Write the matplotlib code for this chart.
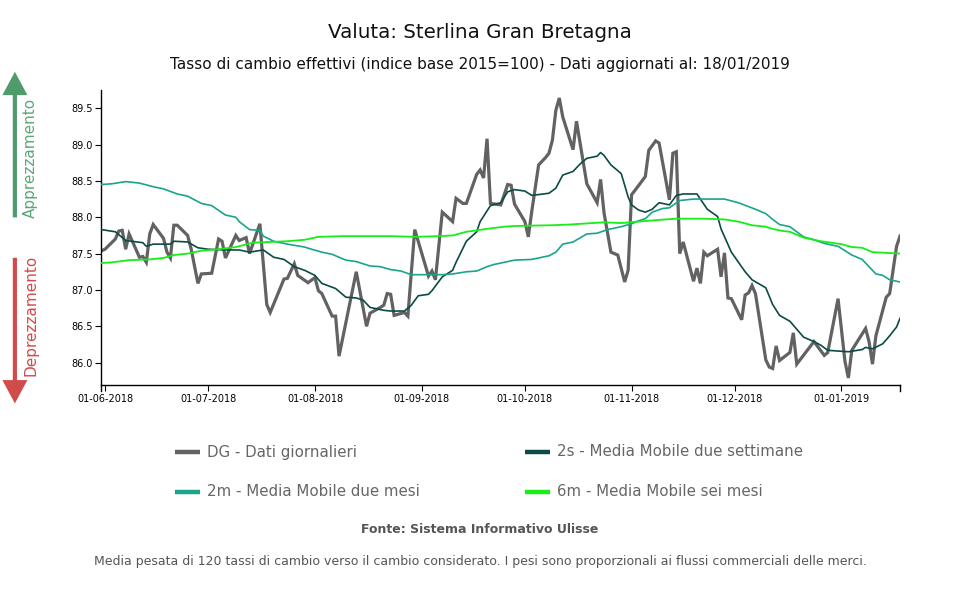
import matplotlib
matplotlib.use("Agg")
import matplotlib.pyplot as plt
import matplotlib.dates as mdates
from matplotlib.lines import Line2D
import pandas as pd

# ---------------- data ----------------
dg_dates = ["2018-05-31", "2018-06-01", "2018-06-04", "2018-06-05", "2018-06-06", "2018-06-07", "2018-06-08",
            "2018-06-11", "2018-06-12", "2018-06-13", "2018-06-14", "2018-06-15", "2018-06-18", "2018-06-19",
            "2018-06-20", "2018-06-21", "2018-06-22", "2018-06-25", "2018-06-26", "2018-06-28", "2018-06-29",
            "2018-07-02", "2018-07-04", "2018-07-05", "2018-07-06", "2018-07-09", "2018-07-10", "2018-07-12",
            "2018-07-13", "2018-07-16", "2018-07-18", "2018-07-19", "2018-07-23", "2018-07-24", "2018-07-26",
            "2018-07-27", "2018-07-30", "2018-08-01", "2018-08-02", "2018-08-03", "2018-08-06", "2018-08-07",
            "2018-08-08", "2018-08-13", "2018-08-16", "2018-08-17", "2018-08-20", "2018-08-21", "2018-08-22",
            "2018-08-23", "2018-08-24", "2018-08-27", "2018-08-28", "2018-08-30", "2018-09-03", "2018-09-04",
            "2018-09-05", "2018-09-07", "2018-09-10", "2018-09-11", "2018-09-13", "2018-09-14", "2018-09-17",
            "2018-09-18", "2018-09-19", "2018-09-20", "2018-09-21", "2018-09-24", "2018-09-26", "2018-09-27",
            "2018-09-28", "2018-10-01", "2018-10-02", "2018-10-03", "2018-10-05", "2018-10-07", "2018-10-08",
            "2018-10-09", "2018-10-10", "2018-10-11", "2018-10-12", "2018-10-15", "2018-10-16", "2018-10-19",
            "2018-10-22", "2018-10-23", "2018-10-24", "2018-10-26", "2018-10-28", "2018-10-30", "2018-10-31",
            "2018-11-01", "2018-11-02", "2018-11-05", "2018-11-06", "2018-11-08", "2018-11-09", "2018-11-12",
            "2018-11-13", "2018-11-14", "2018-11-15", "2018-11-16", "2018-11-19", "2018-11-20", "2018-11-21",
            "2018-11-22", "2018-11-23", "2018-11-26", "2018-11-27", "2018-11-28", "2018-11-29", "2018-11-30",
            "2018-12-03", "2018-12-04", "2018-12-05", "2018-12-06", "2018-12-07", "2018-12-10", "2018-12-11",
            "2018-12-12", "2018-12-13", "2018-12-14", "2018-12-17", "2018-12-18", "2018-12-19", "2018-12-24",
            "2018-12-27", "2018-12-28", "2018-12-31", "2019-01-02", "2019-01-03", "2019-01-04", "2019-01-08",
            "2019-01-09", "2019-01-10", "2019-01-11", "2019-01-14", "2019-01-15", "2019-01-17", "2019-01-18"]
dg_values = [87.54, 87.56, 87.70, 87.81, 87.82, 87.56, 87.77,
             87.45, 87.46, 87.38, 87.77, 87.90, 87.71, 87.52,
             87.44, 87.89, 87.89, 87.75, 87.57, 87.09, 87.22,
             87.23, 87.70, 87.67, 87.44, 87.75, 87.68, 87.72,
             87.50, 87.91, 86.80, 86.69, 87.15, 87.16, 87.36,
             87.20, 87.10, 87.17, 86.99, 86.95, 86.64, 86.64,
             86.09, 87.25, 86.50, 86.68, 86.76, 86.79, 86.95,
             86.94, 86.65, 86.69, 86.64, 87.83, 87.19, 87.26,
             87.14, 88.07, 87.94, 88.26, 88.19, 88.19, 88.59,
             88.65, 88.54, 89.08, 88.19, 88.17, 88.45, 88.44,
             88.18, 87.94, 87.73, 88.08, 88.72, 88.82, 88.88,
             89.06, 89.47, 89.64, 89.38, 88.93, 89.32, 88.46,
             88.20, 88.52, 88.06, 87.52, 87.48, 87.11, 87.27,
             88.31, 88.37, 88.56, 88.92, 89.05, 89.02, 88.24,
             88.88, 88.90, 87.50, 87.66, 87.12, 87.30, 87.09,
             87.52, 87.47, 87.56, 87.18, 87.51, 86.89, 86.88,
             86.59, 86.93, 86.96, 87.06, 86.95, 86.04, 85.94,
             85.92, 86.23, 86.03, 86.14, 86.41, 85.98, 86.29,
             86.10, 86.14, 86.88, 86.02, 85.79, 86.17, 86.47,
             86.29, 85.98, 86.37, 86.90, 86.95, 87.60, 87.74]

ma2s_dates = ["2018-05-31", "2018-06-04", "2018-06-07", "2018-06-12", "2018-06-13", "2018-06-15", "2018-06-20",
              "2018-06-21", "2018-06-25", "2018-06-28", "2018-07-01", "2018-07-06", "2018-07-10", "2018-07-13",
              "2018-07-17", "2018-07-20", "2018-07-23", "2018-07-26", "2018-07-29", "2018-08-01", "2018-08-03",
              "2018-08-07", "2018-08-10", "2018-08-13", "2018-08-15", "2018-08-17", "2018-08-19", "2018-08-21",
              "2018-08-23", "2018-08-27", "2018-08-29", "2018-08-31", "2018-09-03", "2018-09-04", "2018-09-07",
              "2018-09-10", "2018-09-11", "2018-09-14", "2018-09-17", "2018-09-18", "2018-09-21", "2018-09-24",
              "2018-09-26", "2018-09-28", "2018-10-01", "2018-10-03", "2018-10-08", "2018-10-10", "2018-10-12",
              "2018-10-15", "2018-10-17", "2018-10-19", "2018-10-22", "2018-10-23", "2018-10-24", "2018-10-26",
              "2018-10-29", "2018-10-31", "2018-11-01", "2018-11-03", "2018-11-05", "2018-11-07", "2018-11-09",
              "2018-11-12", "2018-11-14", "2018-11-16", "2018-11-20", "2018-11-23", "2018-11-26", "2018-11-27",
              "2018-11-30", "2018-12-04", "2018-12-06", "2018-12-10", "2018-12-12", "2018-12-14", "2018-12-17",
              "2018-12-21", "2018-12-24", "2018-12-26", "2018-12-28", "2019-01-03", "2019-01-07", "2019-01-08",
              "2019-01-10", "2019-01-13", "2019-01-15", "2019-01-17", "2019-01-18"]
ma2s_values = [87.83, 87.80, 87.68, 87.65, 87.60, 87.63, 87.63,
               87.67, 87.66, 87.58, 87.56, 87.55, 87.55, 87.52,
               87.55, 87.45, 87.42, 87.32, 87.27, 87.20, 87.09,
               87.02, 86.90, 86.89, 86.86, 86.76, 86.74, 86.72,
               86.71, 86.71, 86.79, 86.92, 86.94, 86.99, 87.18,
               87.27, 87.38, 87.67, 87.80, 87.94, 88.16, 88.20,
               88.35, 88.38, 88.36, 88.30, 88.33, 88.40, 88.58,
               88.63, 88.73, 88.81, 88.84, 88.89, 88.85, 88.72,
               88.60, 88.28, 88.17, 88.10, 88.07, 88.11, 88.20,
               88.17, 88.30, 88.32, 88.32, 88.11, 88.01, 87.84,
               87.52, 87.25, 87.14, 87.03, 86.80, 86.65, 86.57,
               86.35, 86.29, 86.24, 86.17, 86.15, 86.18, 86.21,
               86.19, 86.26, 86.37, 86.49, 86.61]

ma2m_dates = ["2018-05-31", "2018-06-03", "2018-06-07", "2018-06-11", "2018-06-15", "2018-06-18", "2018-06-22",
              "2018-06-25", "2018-06-29", "2018-07-02", "2018-07-06", "2018-07-09", "2018-07-10", "2018-07-13",
              "2018-07-16", "2018-07-17", "2018-07-20", "2018-07-24", "2018-07-29", "2018-07-31", "2018-08-03",
              "2018-08-06", "2018-08-10", "2018-08-13", "2018-08-17", "2018-08-20", "2018-08-23", "2018-08-26",
              "2018-08-29", "2018-09-02", "2018-09-07", "2018-09-10", "2018-09-14", "2018-09-17", "2018-09-20",
              "2018-09-22", "2018-09-25", "2018-09-28", "2018-10-03", "2018-10-06", "2018-10-08", "2018-10-10",
              "2018-10-12", "2018-10-15", "2018-10-19", "2018-10-22", "2018-10-25", "2018-10-29", "2018-11-01",
              "2018-11-03", "2018-11-05", "2018-11-07", "2018-11-10", "2018-11-12", "2018-11-15", "2018-11-19",
              "2018-11-28", "2018-12-02", "2018-12-07", "2018-12-10", "2018-12-12", "2018-12-14", "2018-12-17",
              "2018-12-21", "2018-12-24", "2018-12-27", "2018-12-31", "2019-01-04", "2019-01-07", "2019-01-11",
              "2019-01-13", "2019-01-15", "2019-01-18"]
ma2m_values = [88.45, 88.46, 88.49, 88.47, 88.42, 88.39, 88.32,
               88.29, 88.19, 88.16, 88.03, 88.00, 87.94, 87.83,
               87.82, 87.74, 87.67, 87.63, 87.59, 87.56, 87.52,
               87.49, 87.41, 87.39, 87.33, 87.32, 87.28, 87.26,
               87.21, 87.21, 87.21, 87.22, 87.25, 87.26, 87.32,
               87.35, 87.38, 87.41, 87.42, 87.45, 87.47, 87.52,
               87.63, 87.66, 87.77, 87.78, 87.83, 87.87, 87.91,
               87.95, 87.98, 88.07, 88.12, 88.13, 88.23, 88.25,
               88.25, 88.20, 88.11, 88.05, 87.97, 87.90, 87.87,
               87.73, 87.69, 87.64, 87.60, 87.48, 87.42, 87.22,
               87.20, 87.14, 87.11]

ma6m_dates = ["2018-05-31", "2018-06-03", "2018-06-08", "2018-06-14", "2018-06-18", "2018-06-21", "2018-06-25",
              "2018-06-29", "2018-07-04", "2018-07-09", "2018-07-14", "2018-07-19", "2018-07-24", "2018-07-29",
              "2018-08-02", "2018-08-09", "2018-08-17", "2018-08-23", "2018-08-30", "2018-09-06", "2018-09-10",
              "2018-09-14", "2018-09-17", "2018-09-20", "2018-09-25", "2018-09-28", "2018-10-09", "2018-10-14",
              "2018-10-24", "2018-10-29", "2018-11-03", "2018-11-08", "2018-11-14", "2018-11-22", "2018-11-28",
              "2018-12-02", "2018-12-06", "2018-12-10", "2018-12-12", "2018-12-15", "2018-12-17", "2018-12-21",
              "2018-12-26", "2019-01-01", "2019-01-04", "2019-01-07", "2019-01-10", "2019-01-14", "2019-01-18"]
ma6m_values = [87.37, 87.38, 87.41, 87.42, 87.44, 87.48, 87.50,
               87.54, 87.56, 87.59, 87.65, 87.66, 87.67, 87.69,
               87.73, 87.74, 87.74, 87.74, 87.73, 87.74, 87.75,
               87.80, 87.82, 87.84, 87.87, 87.88, 87.89, 87.90,
               87.93, 87.92, 87.94, 87.96, 87.98, 87.98, 87.97,
               87.94, 87.89, 87.87, 87.84, 87.81, 87.80, 87.72,
               87.67, 87.63, 87.59, 87.58, 87.52, 87.51, 87.50]

series_labels = ["DG - Dati giornalieri", "2s - Media Mobile due settimane",
                 "2m - Media Mobile due mesi", "6m - Media Mobile sei mesi"]
y_ticks = [86.0, 86.5, 87.0, 87.5, 88.0, 88.5, 89.0, 89.5]
x_ticks = ["2018-06-01", "2018-07-01", "2018-08-01", "2018-09-01", "2018-10-01",
           "2018-11-01", "2018-12-01", "2019-01-01"]

title = "Valuta: Sterlina Gran Bretagna"
subtitle = "Tasso di cambio effettivi (indice base 2015=100) - Dati aggiornati al: 18/01/2019"
source = "Fonte: Sistema Informativo Ulisse"
footnote = ("Media pesata di 120 tassi di cambio verso il cambio considerato. "
            "I pesi sono proporzionali ai flussi commerciali delle merci.")

# ---------------- style ----------------
C_DG = "#626262"
C_2S = "#0b4b45"
C_2M = "#18a58c"
C_6M = "#16ee16"
TXT = "#555555"
series_colors = [C_DG, C_2S, C_2M, C_6M]

plt.rcParams['font.family'] = ['DejaVu Sans']

fig = plt.figure(figsize=(9.6, 6.0), dpi=100)
ax = fig.add_axes([0.1055, 0.358, 0.832, 0.492])

ax.plot(pd.to_datetime(dg_dates), dg_values, color=C_DG, lw=2.3, solid_joinstyle='miter', zorder=2)
ax.plot(pd.to_datetime(ma2s_dates), ma2s_values, color=C_2S, lw=1.2, zorder=3)
ax.plot(pd.to_datetime(ma2m_dates), ma2m_values, color=C_2M, lw=1.2, zorder=3)
ax.plot(pd.to_datetime(ma6m_dates), ma6m_values, color=C_6M, lw=1.3, zorder=3)

ax.set_xlim(pd.Timestamp("2018-05-30 22:00"), pd.Timestamp("2019-01-18"))
ax.set_ylim(85.69, 89.75)
ax.set_yticks(y_ticks)
ax.set_yticklabels([f"{v:.1f}" for v in y_ticks])
ax.set_xticks(pd.to_datetime(x_ticks))
ax.xaxis.set_major_formatter(mdates.DateFormatter("%d-%m-%Y"))
ax.tick_params(axis='both', labelsize=7, length=4, width=0.8, color='black', pad=2)
for s in ['top', 'right']:
    ax.spines[s].set_visible(False)
for s in ['left', 'bottom']:
    ax.spines[s].set_linewidth(1.0)

# outer end ticks like the original axis
ax.plot([0, 0], [0, -0.018], transform=ax.transAxes, color='black', lw=1.0, clip_on=False)
ax.plot([1, 1], [0, -0.018], transform=ax.transAxes, color='black', lw=1.0, clip_on=False)

# titles
fig.text(0.5, 0.945, title, ha='center', va='center', fontsize=14.3, color='#111111')
fig.text(0.5, 0.893, subtitle, ha='center', va='center', fontsize=11, color='#111111')

# side arrows
fig.add_artist(matplotlib.patches.FancyArrowPatch(
    (0.0155, 0.633), (0.0155, 0.885), transform=fig.transFigure,
    arrowstyle='simple,head_width=1.5,head_length=1.4,tail_width=0.25',
    mutation_scale=12, color='#4f9b6c', lw=0))
fig.text(0.032, 0.737, "Apprezzamento", rotation=90, ha='center', va='center',
         fontsize=11, color='#5aa877')
fig.add_artist(matplotlib.patches.FancyArrowPatch(
    (0.0155, 0.575), (0.0155, 0.323), transform=fig.transFigure,
    arrowstyle='simple,head_width=1.5,head_length=1.4,tail_width=0.25',
    mutation_scale=12, color='#d24b4b', lw=0))
fig.text(0.032, 0.475, "Deprezzamento", rotation=90, ha='center', va='center',
         fontsize=11, color='#d24b4b')

# legend (manual, 2 columns)
leg_cols_px = [175, 525]
leg_rows_px = [452, 492]
leg_order = [(0, 0, 0), (1, 1, 0), (2, 0, 1), (3, 1, 1)]  # (series, col, row)
W, H = 960.0, 600.0
for si, ci, ri in leg_order:
    x0 = leg_cols_px[ci] / W
    y0 = 1 - leg_rows_px[ri] / H
    fig.add_artist(Line2D([x0, x0 + 25 / W], [y0, y0], transform=fig.transFigure,
                          color=series_colors[si], lw=3.2, solid_capstyle='butt'))
    fig.text(x0 + 32 / W, y0, series_labels[si], ha='left', va='center',
             fontsize=10.8, color='#666666')

fig.text(0.5, 0.117, source, ha='center', va='center', fontsize=9, color=TXT, fontweight='bold')
fig.text(0.5, 0.065, footnote, ha='center', va='center', fontsize=9, color=TXT)

fig.savefig("out.png", dpi=100)
